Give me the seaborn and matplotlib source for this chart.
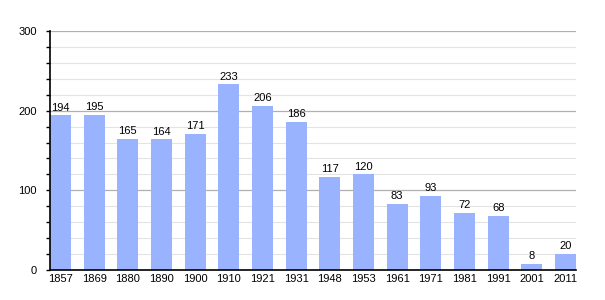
import matplotlib
matplotlib.use("Agg")
import matplotlib.pyplot as plt
import seaborn as sns
import pandas as pd
from matplotlib.ticker import MultipleLocator

years = ["1857", "1869", "1880", "1890", "1900", "1910", "1921", "1931",
         "1948", "1953", "1961", "1971", "1981", "1991", "2001", "2011"]
population = [194, 195, 165, 164, 171, 233, 206, 186, 117, 120, 83, 93, 72, 68, 8, 20]

df = pd.DataFrame({"year": years, "pop": population})

sns.set_style("white")
plt.rcParams["font.family"] = ["Liberation Sans", "DejaVu Sans"]
plt.rcParams["text.color"] = "black"
plt.rcParams["xtick.color"] = "black"
plt.rcParams["ytick.color"] = "black"
plt.rcParams["xtick.labelcolor"] = "black"
plt.rcParams["ytick.labelcolor"] = "black"

fig = plt.figure(figsize=(6.05, 3.0), dpi=100)
ax = fig.add_axes([50/605, 30/300, 526/605, 239/300])

w = 0.624
sns.barplot(data=df, x="year", y="pop", color="#99b3ff", saturation=1,
            width=w, ax=ax, zorder=3)
for p in ax.patches:
    p.set_edgecolor("none")

ax.set_xlim(-w/2, len(years) - 1 + w/2)
ax.set_ylim(0, 300)
ax.yaxis.set_major_locator(MultipleLocator(100))
ax.yaxis.set_minor_locator(MultipleLocator(20))
ax.grid(which="major", axis="y", color="#b0b0b0", linewidth=0.9, zorder=1)
ax.grid(which="minor", axis="y", color="#e3e3e3", linewidth=0.8, zorder=1)
ax.set_axisbelow(True)

for s in ["top", "right"]:
    ax.spines[s].set_visible(False)
for s in ["left", "bottom"]:
    ax.spines[s].set_color("black")
    ax.spines[s].set_linewidth(1.2)
    ax.spines[s].set_zorder(4)

ax.tick_params(axis="y", which="major", length=3, width=1, color="black",
               labelsize=8, pad=6.5, left=True, labelcolor="black")
ax.tick_params(axis="y", which="minor", length=3, width=1, color="black", left=True)
ax.tick_params(axis="x", length=0, labelsize=8, pad=3, labelcolor="black")
ax.set_xlabel("")
ax.set_ylabel("")

for i, v in enumerate(population):
    ax.annotate(str(v), (i, v), xytext=(0, 2), textcoords="offset points",
                ha="center", va="bottom", fontsize=8, color="black")

fig.savefig("out.png", dpi=100)
